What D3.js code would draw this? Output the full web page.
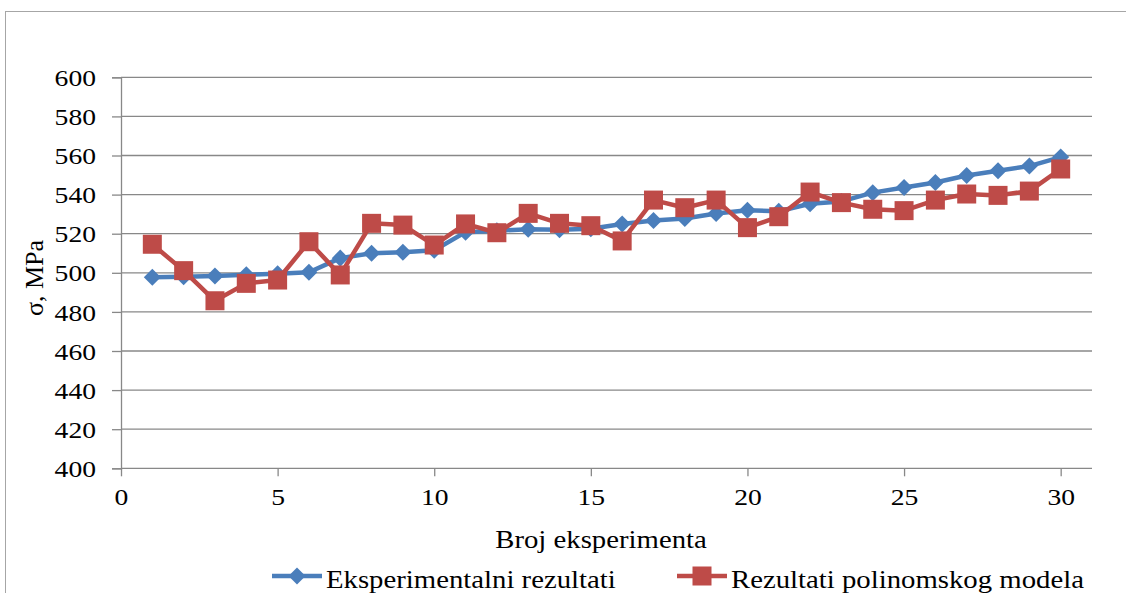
<!DOCTYPE html>
<html>
<head>
<meta charset="utf-8">
<script src="https://cdn.jsdelivr.net/npm/d3@7"></script>
<style>
  html, body { margin: 0; padding: 0; background: #fff; }
  svg { display: block; }
  text { font-family: "Liberation Serif", "Times New Roman", serif; fill: #000; }
</style>
</head>
<body>
<svg id="chart" width="1126" height="593"></svg>
<script>
// Experiment numbers 1..30
const experiments = [1,2,3,4,5,6,7,8,9,10,11,12,13,14,15,16,17,18,19,20,21,22,23,24,25,26,27,28,29,30];

// Measured strength, MPa
const experimental = [497.7,498.0,498.4,499.0,499.5,500.3,507.5,510.0,510.5,511.5,
                      520.8,521.5,522.3,522.0,522.5,525.0,526.7,527.8,530.3,532.0,
                      531.5,535.3,536.5,541.0,543.6,546.2,549.8,552.2,554.6,559.2];

// Polynomial model prediction, MPa
const polynomial   = [514.6,501.1,485.7,494.6,496.3,515.9,498.9,525.3,524.4,514.2,
                      525.0,520.5,530.4,525.3,524.1,516.3,537.2,533.3,537.2,523.1,
                      528.7,541.3,535.9,532.5,531.8,537.2,540.3,539.6,541.8,553.1];

const xTicks = [0,5,10,15,20,25,30];
const yTicks = [400,420,440,460,480,500,520,540,560,580,600];
const seriesNames = ["Eksperimentalni rezultati", "Rezultati polinomskog modela"];
const xTitle = "Broj eksperimenta";
const yTitle = "σ, MPa";

const blue = "#4a7ebb";
const red  = "#be4b48";
const grid = "#888888";
const sx = 1.15; // horizontal glyph stretch

const svg = d3.select("#chart");

// chart frame
svg.append("rect")
  .attr("x", 5.5).attr("y", 11.5)
  .attr("width", 1140).attr("height", 600)
  .attr("fill", "none").attr("stroke", "#a6a6a6").attr("stroke-width", 1);

const x = d3.scaleLinear().domain([0, 31]).range([121, 1092]);
const y = d3.scaleLinear().domain([400, 600]).range([468.3, 77.3]);

// horizontal gridlines
svg.append("g").selectAll("line").data(yTicks.slice(1)).join("line")
  .attr("x1", x(0)).attr("x2", x(31))
  .attr("y1", d => y(d)).attr("y2", d => y(d))
  .attr("stroke", grid).attr("stroke-width", 1.3);

// y axis
const yAxis = svg.append("g").attr("transform", `translate(${x(0)},0)`)
  .call(d3.axisLeft(y).tickValues(yTicks).tickSize(9).tickPadding(0).tickFormat(d3.format("d")));
yAxis.select(".domain").attr("stroke", grid).attr("stroke-width", 1.3);
yAxis.selectAll(".tick line").attr("stroke", grid).attr("stroke-width", 1.3);
yAxis.selectAll(".tick text").remove();
yAxis.selectAll(".tick").append("text")
  .attr("transform", `translate(-25,0) scale(${sx},1)`)
  .attr("text-anchor", "end").attr("dy", "0.34em")
  .style("font-size", "24px")
  .text(d => d);

// x axis
const xAxis = svg.append("g").attr("transform", `translate(0,${y(400)})`)
  .call(d3.axisBottom(x).tickValues(xTicks).tickSize(8).tickFormat(d3.format("d")));
xAxis.select(".domain").attr("stroke", grid).attr("stroke-width", 1.3).attr("d", `M${x(0)},0H${x(31)}`);
xAxis.selectAll(".tick line").attr("stroke", grid).attr("stroke-width", 1.3);
xAxis.selectAll(".tick text").remove();
xAxis.selectAll(".tick").append("text")
  .attr("transform", `translate(0,37) scale(${sx},1)`)
  .attr("text-anchor", "middle")
  .style("font-size", "24px")
  .text(d => d);

// axis titles
svg.append("text")
  .attr("transform", `translate(601,548) scale(${sx},1)`)
  .attr("text-anchor", "middle").style("font-size", "25px")
  .text(xTitle);

svg.append("text")
  .attr("transform", `translate(43,278) rotate(-90)`)
  .attr("text-anchor", "middle").style("font-size", "26px")
  .text(yTitle);

// series
const diamond = d3.symbol().type(d3.symbolDiamond2).size(185);
const line = d3.line().x(d => x(d[0])).y(d => y(d[1]));

const expPts  = experiments.map((e, i) => [e, experimental[i]]);
const polyPts = experiments.map((e, i) => [e, polynomial[i]]);

svg.append("path").datum(expPts).attr("d", line)
  .attr("fill", "none").attr("stroke", blue).attr("stroke-width", 4.5).attr("stroke-linejoin", "round");
svg.append("g").selectAll("path").data(expPts).join("path")
  .attr("d", diamond)
  .attr("transform", d => `translate(${x(d[0])},${y(d[1])})`)
  .attr("fill", blue);

svg.append("path").datum(polyPts).attr("d", line)
  .attr("fill", "none").attr("stroke", red).attr("stroke-width", 4.5).attr("stroke-linejoin", "round");
const sq = 19;
svg.append("g").selectAll("rect").data(polyPts).join("rect")
  .attr("x", d => x(d[0]) - sq / 2).attr("y", d => y(d[1]) - sq / 2)
  .attr("width", sq).attr("height", sq)
  .attr("fill", red);

// legend
const legend = svg.append("g");
const items = [
  { name: seriesNames[0], color: blue, x0: 272, type: "diamond" },
  { name: seriesNames[1], color: red,  x0: 677, type: "square" }
];
const ly = 576;
items.forEach(it => {
  legend.append("line")
    .attr("x1", it.x0).attr("x2", it.x0 + 50)
    .attr("y1", ly).attr("y2", ly)
    .attr("stroke", it.color).attr("stroke-width", 4.5);
  if (it.type === "diamond") {
    legend.append("path").attr("d", diamond)
      .attr("transform", `translate(${it.x0 + 25},${ly})`)
      .attr("fill", it.color);
  } else {
    legend.append("rect")
      .attr("x", it.x0 + 25 - sq / 2).attr("y", ly - sq / 2)
      .attr("width", sq).attr("height", sq).attr("fill", it.color);
  }
  legend.append("text")
    .attr("transform", `translate(${it.x0 + 54},${ly + 12}) scale(${sx},1)`)
    .style("font-size", "25px")
    .text(it.name);
});
</script>
</body>
</html>
